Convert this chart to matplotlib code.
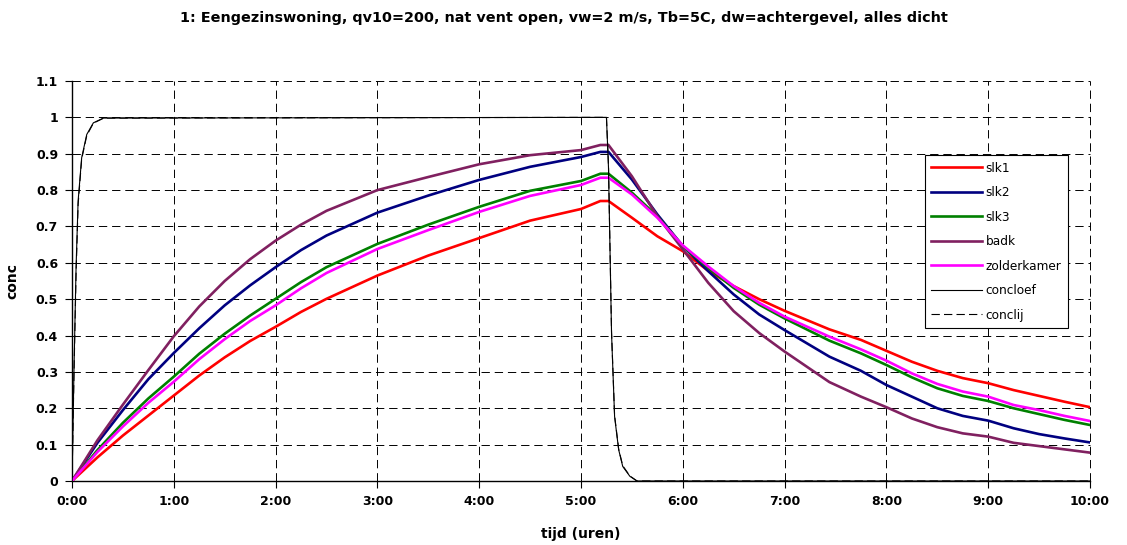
import matplotlib
matplotlib.use("Agg")
import matplotlib.pyplot as plt
from matplotlib.ticker import FixedLocator

plt.rcParams['font.family'] = ['DejaVu Sans']
plt.rcParams['lines.scale_dashes'] = False

# ---- data (hours, concentration) ----
t_room = [0, 0.25, 0.5, 0.75, 1.0, 1.25, 1.5, 1.75, 2.0, 2.25, 2.5, 3.0, 3.5, 4.0, 4.5, 5.0, 5.19, 5.27,
          5.5, 5.75, 6.0, 6.25, 6.5, 6.75, 7.0, 7.44, 7.75, 8.0, 8.25, 8.5, 8.75, 9.0, 9.25, 9.5, 9.75, 10.0]
slk1 = [0, 0.065, 0.125, 0.180, 0.235, 0.290, 0.340, 0.385, 0.424, 0.465, 0.501, 0.565, 0.620, 0.668, 0.716, 0.748,
        0.770, 0.770, 0.724, 0.673, 0.632, 0.578, 0.536, 0.500, 0.468, 0.417, 0.388, 0.358, 0.328, 0.303, 0.283,
        0.269, 0.250, 0.234, 0.218, 0.203]
slk2 = [0, 0.105, 0.195, 0.280, 0.352, 0.420, 0.483, 0.538, 0.588, 0.635, 0.675, 0.738, 0.785, 0.828, 0.864, 0.891,
        0.905, 0.905, 0.829, 0.733, 0.646, 0.577, 0.513, 0.458, 0.415, 0.342, 0.303, 0.264, 0.232, 0.200, 0.179,
        0.166, 0.145, 0.129, 0.117, 0.106]
slk3 = [0, 0.085, 0.160, 0.227, 0.287, 0.350, 0.405, 0.455, 0.501, 0.547, 0.588, 0.652, 0.705, 0.754, 0.798, 0.825,
        0.845, 0.845, 0.793, 0.728, 0.646, 0.586, 0.531, 0.485, 0.447, 0.386, 0.351, 0.319, 0.285, 0.255, 0.234,
        0.220, 0.200, 0.184, 0.168, 0.154]
badk = [0, 0.112, 0.210, 0.305, 0.398, 0.480, 0.550, 0.610, 0.661, 0.705, 0.743, 0.800, 0.836, 0.871, 0.896, 0.910,
        0.924, 0.924, 0.838, 0.728, 0.637, 0.545, 0.467, 0.407, 0.356, 0.272, 0.232, 0.203, 0.172, 0.148, 0.131,
        0.122, 0.105, 0.096, 0.087, 0.078]
zolderkamer = [0, 0.080, 0.150, 0.215, 0.273, 0.335, 0.390, 0.440, 0.483, 0.530, 0.572, 0.638, 0.690, 0.740, 0.784,
               0.814, 0.834, 0.834, 0.788, 0.724, 0.648, 0.590, 0.536, 0.490, 0.452, 0.397, 0.362, 0.331, 0.296,
               0.267, 0.246, 0.232, 0.209, 0.195, 0.179, 0.165]

t_conc = [0, 0.02, 0.04, 0.06, 0.095, 0.145, 0.21, 0.31, 5.2, 5.25, 5.27, 5.285, 5.30, 5.33, 5.37,
          5.41, 5.48, 5.55, 10.0]
concloef = [0, 0.314, 0.588, 0.770, 0.889, 0.953, 0.985, 0.998, 1.0, 1.0, 0.862, 0.634, 0.406, 0.177, 0.086,
            0.040, 0.013, 0, 0]
conclij = [0, 0.300, 0.570, 0.760, 0.885, 0.950, 0.984, 0.998, 1.0, 1.0, 0.870, 0.640, 0.410, 0.180, 0.088,
           0.042, 0.014, 0, 0]

series = [("slk1", slk1, "#FF0000"), ("slk2", slk2, "#000080"), ("slk3", slk3, "#008000"),
          ("badk", badk, "#802060"), ("zolderkamer", zolderkamer, "#FF00FF")]

x_ticks = list(range(0, 11))
x_labels = ["%d:00" % h for h in x_ticks]
y_ticks = [i / 10 for i in range(0, 12)]
y_labels = ["0", "0.1", "0.2", "0.3", "0.4", "0.5", "0.6", "0.7", "0.8", "0.9", "1", "1.1"]

title = "1: Eengezinswoning, qv10=200, nat vent open, vw=2 m/s, Tb=5C, dw=achtergevel, alles dicht"

W, H = 1127, 545
fig = plt.figure(figsize=(W / 100, H / 100), dpi=100)
ax = fig.add_axes([72 / W, (H - 481) / H, (1090 - 72) / W, (481 - 81) / H])

for name, vals, col in series:
    ax.plot(t_room, vals, color=col, lw=1.9, label=name, solid_joinstyle='round', zorder=3)
ax.plot(t_conc, concloef, color='black', lw=0.8, label='concloef', zorder=4)
ax.plot(t_conc, conclij, color='black', lw=0.8, linestyle=(0, (6, 3)), label='conclij', zorder=4)

ax.set_xlim(0, 10)
ax.set_ylim(0, 1.1)
ax.xaxis.set_major_locator(FixedLocator(x_ticks))
ax.yaxis.set_major_locator(FixedLocator(y_ticks))
ax.set_xticklabels(x_labels, fontsize=9, fontweight='bold')
ax.set_yticklabels(y_labels, fontsize=9, fontweight='bold')
ax.tick_params(direction='out', length=5, width=0.8, pad=5)
ax.grid(True, color='black', lw=0.7, linestyle=(0, (6, 3.5)), zorder=1)
ax.set_axisbelow(True)
for s in ['top', 'right']:
    ax.spines[s].set_visible(False)
for s in ['left', 'bottom']:
    ax.spines[s].set_linewidth(1.0)
for g in ax.get_xgridlines() + ax.get_ygridlines():
    g.set_clip_on(False)

ax.set_xlabel("tijd (uren)", fontsize=10, fontweight='bold', labelpad=14)
ax.set_ylabel("conc", fontsize=10, fontweight='bold', labelpad=12)

fig.text(0.5, 1 - 18 / H, title, ha='center', va='center', fontsize=10.35, fontweight='bold')

leg = ax.legend(loc='upper left',
                bbox_to_anchor=(924.7 / W, (H - 331) / H, (1068 - 924.7) / W, (331 - 155) / H),
                bbox_transform=fig.transFigure, mode='expand', borderaxespad=0,
                fontsize=8.7, frameon=True, fancybox=False, shadow=False,
                handlelength=4.2, handletextpad=0.3, labelspacing=0.95, borderpad=0.55)
leg.get_frame().set_edgecolor('black')
leg.get_frame().set_linewidth(0.8)
leg.get_frame().set_alpha(1)

fig.savefig("out.png", dpi=100)
